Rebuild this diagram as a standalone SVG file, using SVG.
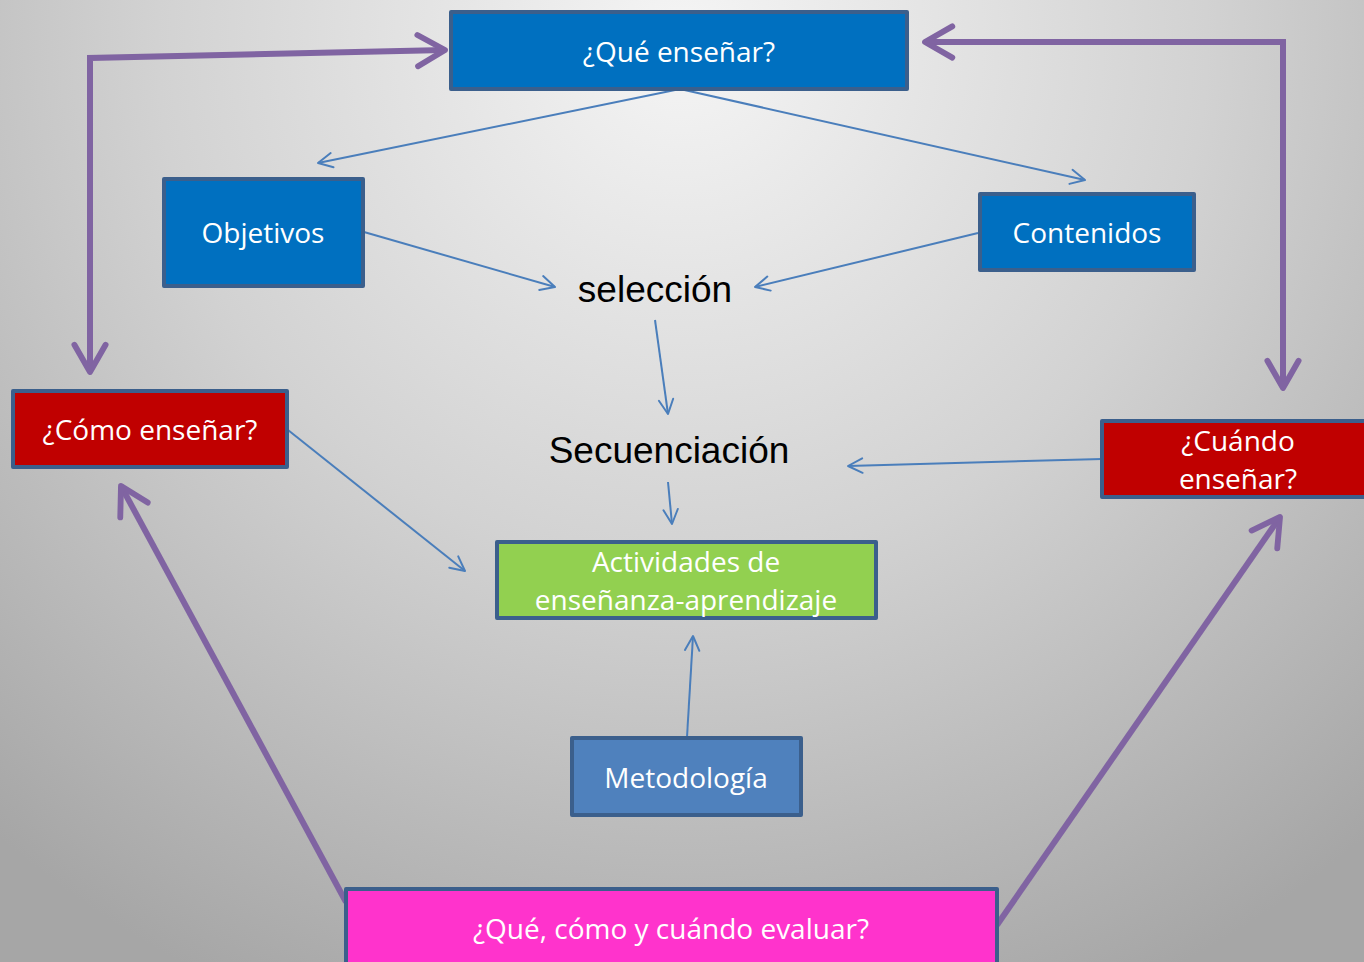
<svg xmlns="http://www.w3.org/2000/svg" width="1364" height="962" viewBox="0 0 1364 962">
<defs>
<radialGradient id="bg" gradientUnits="userSpaceOnUse" cx="682" cy="40" r="1050">
<stop offset="0" stop-color="#f5f5f5"/>
<stop offset="0.5" stop-color="#d2d2d2"/>
<stop offset="1" stop-color="#a6a6a6"/>
</radialGradient>
<marker id="pa" viewBox="0 0 10 10" refX="8.5" refY="5" markerWidth="6.5" markerHeight="6.5" orient="auto-start-reverse" markerUnits="strokeWidth">
<path d="M1.5,1 L8.5,5 L1.5,9" fill="none" stroke="#8064a2" stroke-width="1.5" stroke-linecap="round" stroke-linejoin="round"/>
</marker>
<marker id="ba" viewBox="0 0 10 10" refX="9" refY="5" markerWidth="9" markerHeight="9" orient="auto" markerUnits="strokeWidth">
<path d="M1,1 L9,5 L1,9" fill="none" stroke="#4a7ebb" stroke-width="1.1" stroke-linecap="round" stroke-linejoin="round"/>
</marker>
</defs>
<style>
.box{stroke:#3b5f8c;stroke-width:4;stroke-linejoin:round}
.t{font-family:"Open Sans","Noto Sans",sans-serif;fill:#ffffff;text-anchor:middle;font-size:28px}
.big{font-family:"Liberation Sans",Arial,sans-serif;fill:#000000;text-anchor:middle;font-size:37px}
.b{fill:none;stroke:#4a7ebb;stroke-width:2;marker-end:url(#ba)}
.p{fill:none;stroke:#8064a2;stroke-width:6;stroke-linejoin:miter;marker-end:url(#pa)}
</style>
<rect width="1364" height="962" fill="url(#bg)"/>
<g id="connectors">
<path class="b" d="M680,89 L318,163"/>
<path class="b" d="M680,89 L1085,180"/>
<path class="b" d="M364,232 L555,287"/>
<path class="b" d="M978,233 L755,287"/>
<path class="b" d="M655,320 L668,414"/>
<path class="b" d="M1102,459 L848,466"/>
<path class="b" d="M668,482 L672,524"/>
<path class="b" d="M288,430 L465,571"/>
<path class="b" d="M687,737 L693,636"/>
<path class="p" style="marker-start:url(#pa)" d="M445,50 L90,58 L90,372"/>
<path class="p" style="marker-start:url(#pa)" d="M925,42 L1283,42 L1283,388"/>
<path class="p" d="M346,902 L121,486"/>
<path class="p" d="M997,925 L1280,517"/>
</g>
<g id="que-ensenar">
<rect class="box" x="451" y="12" width="456" height="77" fill="#0070c0"/>
<text class="t" x="679" y="62">¿Qué enseñar?</text>
</g>
<g id="objetivos">
<rect class="box" x="164" y="179" width="199" height="107" fill="#0070c0"/>
<text class="t" x="263" y="243">Objetivos</text>
</g>
<g id="contenidos">
<rect class="box" x="980" y="194" width="214" height="76" fill="#0070c0"/>
<text class="t" x="1087" y="243">Contenidos</text>
</g>
<g id="seleccion">
<text class="big" x="655" y="302">selección</text>
</g>
<g id="secuenciacion">
<text class="big" x="669" y="463">Secuenciación</text>
</g>
<g id="como-ensenar">
<rect class="box" x="13" y="391" width="274" height="76" fill="#c00000"/>
<text class="t" x="150" y="440">¿Cómo enseñar?</text>
</g>
<g id="cuando-ensenar">
<rect class="box" x="1102" y="421" width="270" height="76" fill="#c00000"/>
<text class="t" x="1238" y="451">¿Cuándo</text>
<text class="t" x="1238" y="489">enseñar?</text>
</g>
<g id="actividades">
<rect class="box" x="497" y="542" width="379" height="76" fill="#92d050"/>
<text class="t" x="686" y="572">Actividades de</text>
<text class="t" x="686" y="610">enseñanza-aprendizaje</text>
</g>
<g id="metodologia">
<rect class="box" x="572" y="738" width="229" height="77" fill="#4f81bd"/>
<text class="t" x="686" y="788">Metodología</text>
</g>
<g id="evaluar">
<rect class="box" x="346" y="889" width="651" height="80" fill="#ff33cc"/>
<text class="t" x="671" y="939">¿Qué, cómo y cuándo evaluar?</text>
</g>
</svg>
